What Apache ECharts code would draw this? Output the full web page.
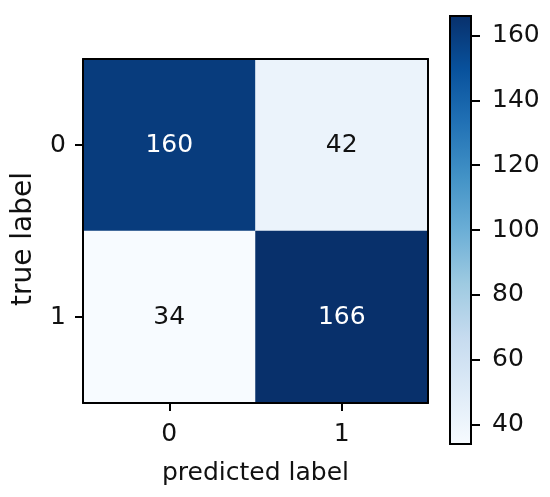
<!DOCTYPE html>
<html>
<head>
<meta charset="utf-8">
<script src="https://cdn.jsdelivr.net/npm/echarts@6/dist/echarts.min.js"></script>
<style>
    html, body { margin: 0; padding: 0; background: #fff; }
    #chart { width: 550px; height: 497px; }
</style>
</head>
<body>
<div id="chart"></div>
<script>
    // confusion matrix: rows = true label, columns = predicted label
    const predictedLabels = ['0', '1']
    const trueLabels = ['0', '1']
    const counts = [
        [160, 42],
        [34, 166]
    ]
    const colorbarTicks = [40, 60, 80, 100, 120, 140, 160]
    // matplotlib "Blues"
    const blues = ['#f7fbff', '#deebf7', '#c6dbef', '#9ecae1', '#6baed6', '#4292c6', '#2171b5', '#08519c', '#08306b']

    const FONT = 'DejaVu Sans'
    const INK = '#111111'

    const flat = counts.flat()
    const vmin = Math.min(...flat)
    const vmax = Math.max(...flat)
    const thresh = vmax / 2

    const cells = []
    counts.forEach((row, i) => {
        row.forEach((v, j) => {
            cells.push({
                value: [j, i, v],
                label: { color: v > thresh ? '#ffffff' : INK }
            })
        })
    })

    const chart = echarts.init(document.getElementById('chart'))

    const frameAxis = {
        show: true,
        z: 10,
        axisLine: { show: true, onZero: false, lineStyle: { color: '#000', width: 2 } },
        axisTick: { show: false },
        axisLabel: { show: false },
        splitLine: { show: false }
    }

    const tickStyle = { show: true, alignWithLabel: true, inside: false, length: 8, lineStyle: { color: '#000', width: 2 } }

    chart.setOption({
        animation: false,
        textStyle: { fontFamily: FONT },
        grid: [
            { left: 83, top: 59, width: 345, height: 344 },
            { left: 450, top: 16, width: 21, height: 428 }
        ],
        xAxis: [
            {
                type: 'category',
                gridIndex: 0,
                data: predictedLabels,
                position: 'bottom',
                z: 10,
                axisLine: { show: true, onZero: false, lineStyle: { color: '#000', width: 2 } },
                axisTick: tickStyle,
                axisLabel: { fontSize: 25, color: INK, margin: 19, fontFamily: FONT },
                splitLine: { show: false },
                name: 'predicted label',
                nameLocation: 'middle',
                nameGap: 58,
                nameTextStyle: { fontSize: 25, color: INK, fontFamily: FONT }
            },
            Object.assign({ type: 'category', gridIndex: 0, data: predictedLabels, position: 'top' }, frameAxis),
            {
                type: 'value',
                gridIndex: 1,
                min: 0,
                max: 1,
                show: false
            }
        ],
        yAxis: [
            {
                type: 'category',
                gridIndex: 0,
                data: trueLabels,
                inverse: true,
                position: 'left',
                z: 10,
                axisLine: { show: true, onZero: false, lineStyle: { color: '#000', width: 2 } },
                axisTick: tickStyle,
                axisLabel: { fontSize: 25, color: INK, margin: 17, fontFamily: FONT },
                splitLine: { show: false },
                name: 'true label',
                nameLocation: 'middle',
                nameGap: 45,
                nameTextStyle: { fontSize: 28, color: INK, fontFamily: FONT, padding: [0, 16, 0, 0] }
            },
            Object.assign({ type: 'category', gridIndex: 0, data: trueLabels, inverse: true, position: 'right' }, frameAxis),
            {
                type: 'value',
                gridIndex: 1,
                min: vmin,
                max: vmax,
                position: 'right',
                z: 10,
                axisLine: { show: true, onZero: false, lineStyle: { color: '#000', width: 2 } },
                axisTick: {
                    show: true,
                    inside: false,
                    length: 9,
                    customValues: colorbarTicks,
                    lineStyle: { color: '#000', width: 2 }
                },
                axisLabel: {
                    show: true,
                    fontSize: 25,
                    color: INK,
                    margin: 21,
                    fontFamily: FONT,
                    customValues: colorbarTicks
                },
                splitLine: { show: false }
            }
        ],
        visualMap: {
            show: false,
            type: 'continuous',
            seriesIndex: 0,
            min: vmin,
            max: vmax,
            inRange: { color: blues }
        },
        series: [
            {
                type: 'heatmap',
                xAxisIndex: 0,
                yAxisIndex: 0,
                data: cells,
                label: {
                    show: true,
                    fontSize: 25,
                    fontFamily: FONT
                },
                emphasis: { disabled: true }
            },
            {
                type: 'custom',
                xAxisIndex: 2,
                yAxisIndex: 2,
                z: 1,
                data: [[0, vmin, vmax]],
                renderItem: function (params, api) {
                    const bottomLeft = api.coord([0, api.value(1)])
                    const topRight = api.coord([1, api.value(2)])
                    return {
                        type: 'rect',
                        shape: {
                            x: bottomLeft[0],
                            y: topRight[1],
                            width: topRight[0] - bottomLeft[0],
                            height: bottomLeft[1] - topRight[1]
                        },
                        style: {
                            fill: new echarts.graphic.LinearGradient(0, 1, 0, 0,
                                blues.map((c, k) => ({ offset: k / (blues.length - 1), color: c }))),
                            stroke: '#000',
                            lineWidth: 2
                        }
                    }
                }
            }
        ]
    })
</script>
</body>
</html>
